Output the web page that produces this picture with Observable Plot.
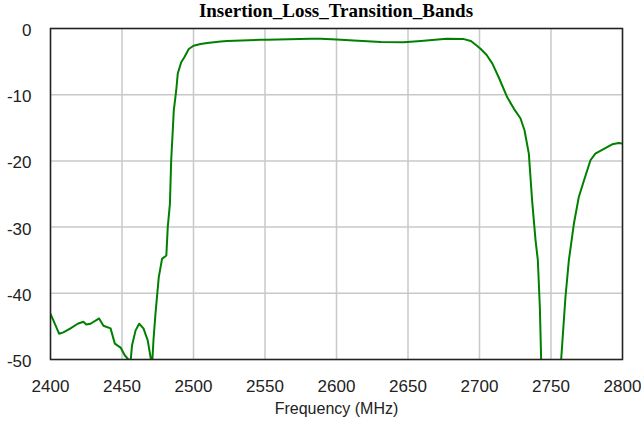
<!DOCTYPE html>
<html>
<head>
<meta charset="utf-8">
<script src="https://cdn.jsdelivr.net/npm/d3@7"></script>
<script src="https://cdn.jsdelivr.net/npm/@observablehq/plot@0.6"></script>
<style>
  html, body { margin: 0; padding: 0; background: #fff; }
  #wrap { position: relative; width: 641px; height: 423px; }
  #title { position: absolute; left: 0; top: 0; width: 672px; text-align: center;
           font: bold 19px "Liberation Serif", "Times New Roman", serif; color: #000; line-height: 22px; }
  #chart { position: absolute; left: 0; top: 0; }
</style>
</head>
<body>
<div id="wrap">
  <div id="chart"></div>
  <div id="title">Insertion_Loss_Transition_Bands</div>
</div>
<script>
const titleText = "Insertion_Loss_Transition_Bands";
const xLabel = "Frequency (MHz)";
const xTicks = [2400, 2450, 2500, 2550, 2600, 2650, 2700, 2750, 2800];
const yTicks = [0, -10, -20, -30, -40, -50];

const freq = [
  2400, 2402, 2406, 2409, 2414, 2419, 2423, 2425, 2428, 2434, 2437, 2442, 2445, 2449, 2452, 2454.5, 2455.5,
  2457, 2459.5, 2462, 2465, 2468, 2470, 2471, 2472, 2473.4, 2475.7, 2478, 2481, 2482, 2483.5, 2484.4,
  2485.5, 2486.2, 2487.9, 2489, 2491.4, 2493.7, 2496.7, 2500, 2505, 2509.6, 2519, 2523.5, 2547, 2551.5,
  2582, 2589, 2600, 2612, 2631, 2647, 2659, 2677, 2689, 2694, 2698, 2700.7, 2705, 2709,
  2713.5, 2719.4, 2724, 2728.7, 2731.5, 2734.5, 2736.8, 2739.2, 2740.8, 2742.2, 2743.1, 2744, 2750,
  2756, 2757.1, 2760.1, 2762.5, 2766, 2769.4, 2773, 2777.6, 2781, 2787, 2792.8, 2797.4, 2800
];
const loss = [
  -43.1, -44.1, -46.1, -45.9, -45.3, -44.6, -44.3, -44.7, -44.6, -43.8, -44.9, -45.3, -47.6, -48.2, -49.4, -50.0, -51.5,
  -47.9, -45.6, -44.6, -45.3, -47.1, -49.7, -51.0, -47.1, -43.1, -37.6, -34.8, -34.3, -30.0, -26.5, -19.9,
  -15.4, -12.4, -9.4, -6.8, -5.1, -4.3, -3.1, -2.6, -2.35, -2.2, -1.95, -1.9, -1.7, -1.7,
  -1.56, -1.56, -1.65, -1.8, -2.05, -2.07, -1.9, -1.56, -1.6, -1.9, -2.57, -3.07, -4.0, -5.3,
  -7.4, -10.4, -12.1, -13.6, -15.4, -18.9, -26.0, -32.0, -35.0, -42.1, -49.9, -57.0, -75.0,
  -58.0, -50.0, -40.6, -35.0, -29.5, -25.5, -23.0, -19.9, -18.9, -18.2, -17.5, -17.3, -17.4
];

const data = freq.map((f, i) => ({f, v: loss[i]}));
document.getElementById("title").textContent = titleText;

const chart = Plot.plot({
  width: 641,
  height: 423,
  marginLeft: 50,
  marginRight: 19,
  marginTop: 28,
  marginBottom: 64,
  style: {fontFamily: "'Liberation Sans', Arial, sans-serif", fontSize: "17px", color: "#222", background: "#fff"},
  x: {domain: [2400, 2800]},
  y: {domain: [-50, 0]},
  marks: [
    Plot.gridX(xTicks, {stroke: "#c8c8c8", strokeOpacity: 1, strokeWidth: 1.5}),
    Plot.gridY(yTicks, {stroke: "#c8c8c8", strokeOpacity: 1, strokeWidth: 1.5}),
    Plot.line(data, {x: "f", y: "v", stroke: "#008000", strokeWidth: 2, clip: true}),
    Plot.frame({stroke: "#222", strokeWidth: 1.5}),
    Plot.axisX(xTicks, {tickSize: 0, tickPadding: 20, fontSize: 17, label: null, tickFormat: d => String(d)}),
    Plot.axisY(yTicks, {tickSize: 0, tickPadding: 19, fontSize: 17, dy: 2, label: null, tickFormat: d => String(d)}),
    Plot.text([xLabel], {frameAnchor: "bottom", dy: 49, text: d => d, fontSize: 16, lineAnchor: "middle"})
  ]
});
document.getElementById("chart").appendChild(chart);
</script>
</body>
</html>
